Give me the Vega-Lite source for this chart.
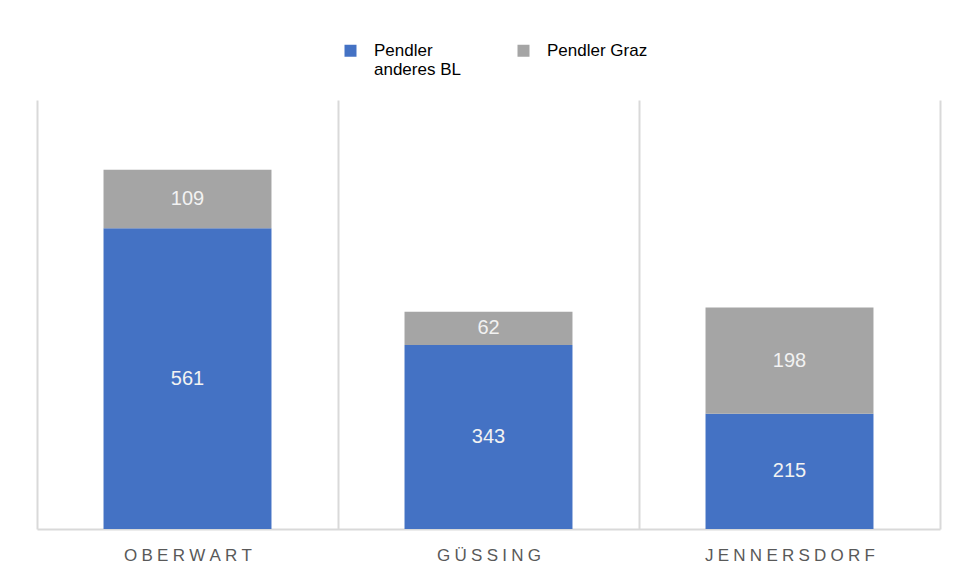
{
  "$schema": "https://vega.github.io/schema/vega-lite/v6.json",
  "width": 903,
  "height": 429,
  "padding": {"left": 37, "top": 42, "right": 15, "bottom": 10},
  "background": "white",
  "config": {"view": {"stroke": null}},
  "data": {"values": [
    {"bezirk": "Oberwart", "series": "Pendler anderes BL", "value": 561},
    {"bezirk": "Oberwart", "series": "Pendler Graz", "value": 109},
    {"bezirk": "Güssing", "series": "Pendler anderes BL", "value": 343},
    {"bezirk": "Güssing", "series": "Pendler Graz", "value": 62},
    {"bezirk": "Jennersdorf", "series": "Pendler anderes BL", "value": 215},
    {"bezirk": "Jennersdorf", "series": "Pendler Graz", "value": 198}
  ]},
  "transform": [
    {"stack": "value", "groupby": ["bezirk"], "sort": [{"field": "series", "order": "descending"}], "as": ["v0", "v1"]},
    {"calculate": "(datum.v0 + datum.v1) / 2", "as": "mid"}
  ],
  "encoding": {
    "x": {
      "field": "bezirk", "type": "nominal",
      "sort": ["Oberwart", "Güssing", "Jennersdorf"],
      "scale": {"paddingInner": 0, "paddingOuter": 0},
      "axis": {
        "title": null, "tickBand": "extent", "grid": true, "ticks": false,
        "domain": true, "domainColor": "#d9d9d9", "domainWidth": 2,
        "gridColor": "#d9d9d9", "gridWidth": 2,
        "labelAngle": 0, "labelLimit": 400,
        "labelExpr": "join(split(upper(datum.label), ''), '\u2005')",
        "labelFont": "Liberation Sans", "labelFontSize": 17,
        "labelColor": "#595959", "labelPadding": 18
      }
    }
  },
  "layer": [
    {
      "mark": {"type": "bar", "width": {"band": 0.558}},
      "encoding": {
        "y": {"field": "v0", "type": "quantitative", "scale": {"domain": [0, 800], "nice": false}, "axis": null},
        "y2": {"field": "v1"},
        "color": {
          "field": "series", "type": "nominal",
          "scale": {"domain": ["Pendler anderes BL", "Pendler Graz"], "range": ["#4472c4", "#a5a5a5"]},
          "legend": {
            "orient": "none", "legendX": 305, "legendY": -58,
            "direction": "horizontal", "title": null,
            "symbolType": "square", "symbolSize": 144, "symbolStrokeWidth": 0,
            "labelFont": "Liberation Sans", "labelFontSize": 17, "labelColor": "#000000",
            "labelLineHeight": 22, "labelOffset": 15, "columnPadding": 54,
            "labelLimit": 300,
            "labelExpr": "datum.label == 'Pendler anderes BL' ? ['Pendler', 'anderes BL'] : [datum.label, '']"
          }
        }
      }
    },
    {
      "mark": {"type": "text", "color": "#f2f2f2", "font": "Liberation Sans", "fontSize": 20, "baseline": "middle"},
      "encoding": {
        "y": {"field": "mid", "type": "quantitative"},
        "text": {"field": "value", "type": "quantitative"}
      }
    }
  ]
}
